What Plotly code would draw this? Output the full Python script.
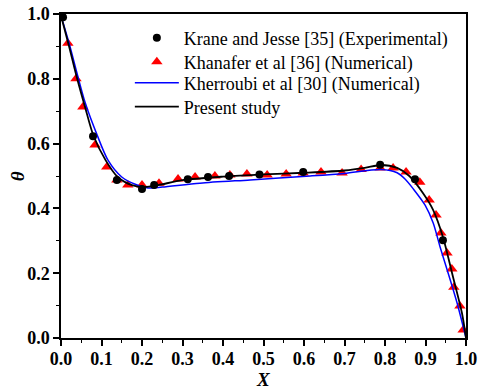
import plotly.graph_objects as go

# Krane and Jesse (Experimental)
krane_x = [0.005, 0.079, 0.138, 0.200, 0.230, 0.313, 0.363, 0.415, 0.490, 0.598, 0.788, 0.874, 0.943]
krane_y = [0.990, 0.623, 0.488, 0.460, 0.472, 0.490, 0.497, 0.500, 0.505, 0.512, 0.535, 0.490, 0.302]

# Khanafer et al (Numerical)
khan_x = [0.017, 0.037, 0.054, 0.084, 0.113, 0.138, 0.165, 0.200, 0.242, 0.289, 0.331, 0.380,
          0.417, 0.459, 0.509, 0.556, 0.598, 0.642, 0.694, 0.741, 0.788, 0.820, 0.852, 0.886,
          0.909, 0.926, 0.938, 0.953, 0.965, 0.970, 0.985, 0.993]
khan_y = [0.910, 0.800, 0.713, 0.596, 0.528, 0.488, 0.472, 0.472, 0.478, 0.491, 0.497, 0.500,
          0.503, 0.506, 0.503, 0.506, 0.509, 0.512, 0.509, 0.520, 0.525, 0.525, 0.512, 0.481,
          0.426, 0.380, 0.324, 0.262, 0.213, 0.157, 0.099, 0.025]

# Kherroubi et al (Numerical)
kher_x = [0.0, 0.02, 0.04, 0.06, 0.089, 0.116, 0.150, 0.188, 0.215, 0.250, 0.343, 0.467,
          0.615, 0.700, 0.790, 0.830, 0.850, 0.870, 0.899, 0.919, 0.936, 0.956, 0.978, 1.0]
kher_y = [0.995, 0.910, 0.815, 0.725, 0.627, 0.549, 0.497, 0.472, 0.463, 0.466, 0.478, 0.488,
          0.500, 0.508, 0.520, 0.510, 0.490, 0.460, 0.410, 0.355, 0.281, 0.200, 0.108, 0.0]

# Present study
pres_x = [0.0, 0.02, 0.04, 0.06, 0.08, 0.11, 0.14, 0.175, 0.207, 0.24, 0.30, 0.40, 0.50,
          0.60, 0.70, 0.75, 0.79, 0.83, 0.86, 0.894, 0.919, 0.943, 0.968, 0.99, 1.0]
pres_y = [0.995, 0.900, 0.800, 0.710, 0.625, 0.549, 0.497, 0.472, 0.466, 0.472, 0.487, 0.498, 0.505,
          0.510, 0.517, 0.525, 0.534, 0.525, 0.500, 0.447, 0.395, 0.312, 0.188, 0.077, 0.0]

x_title = "X"
y_title = "θ"

fig = go.Figure()
fig.add_trace(go.Scatter(x=khan_x, y=khan_y, mode="markers", name="Khanafer et al [36] (Numerical)",
                         marker=dict(symbol="triangle-up", size=10, color="#ff0000"), legend="legend2"))
fig.add_trace(go.Scatter(x=kher_x, y=kher_y, mode="lines", name="Kherroubi et al [30] (Numerical)",
                         line=dict(color="#0000ff", width=1.5, shape="spline", smoothing=0.8), legend="legend3"))
fig.add_trace(go.Scatter(x=pres_x, y=pres_y, mode="lines", name="Present study",
                         line=dict(color="#000000", width=1.8, shape="spline", smoothing=0.8), legend="legend4"))
fig.add_trace(go.Scatter(x=krane_x, y=krane_y, mode="markers", name="Krane and Jesse [35] (Experimental)",
                         marker=dict(symbol="circle", size=8, color="#000000"), legend="legend"))

serif = "Liberation Serif, Times New Roman, serif"
axis_common = dict(
    showgrid=False, zeroline=False, showline=True, linecolor="#000000", linewidth=1.5,
    mirror=True, ticks="outside", ticklen=6, tickwidth=1.5, tickcolor="#000000", automargin=False,
    tickfont=dict(family=serif, size=18, color="#000000", weight="bold"),
)
fig.update_xaxes(range=[0, 1.0], dtick=0.1, tickformat=".1f", ticklabelstandoff=-2,
                 minor=dict(dtick=0.05, ticks="outside", ticklen=3, tickwidth=1.2, tickcolor="#000000"),
                 **axis_common)
fig.update_yaxes(range=[0, 1.0], dtick=0.2, tickformat=".1f",
                 minor=dict(dtick=0.1, ticks="outside", ticklen=3, tickwidth=1.2, tickcolor="#000000"),
                 **axis_common)

title_font = dict(family=serif, size=19, color="#000000")
fig.add_annotation(text=f"<b><i>{x_title}</i></b>", xref="paper", yref="paper",
                   x=0.5, y=-0.1296, xanchor="center", yanchor="middle", showarrow=False,
                   font=title_font, borderpad=0)
fig.add_annotation(text=f"<b><i>{y_title}</i></b>", xref="paper", yref="paper",
                   x=-0.108, y=0.5, xanchor="center", yanchor="middle", showarrow=False,
                   textangle=-90, font=title_font, borderpad=0)

leg_font = dict(family=serif, size=18, color="#000000")
def leg(yv):
    return dict(x=0.17, y=yv, xanchor="left", yanchor="middle", bgcolor="rgba(0,0,0,0)",
                borderwidth=0, itemwidth=44, font=leg_font)

fig.update_layout(
    width=478, height=391,
    margin=dict(l=61, r=12, t=14, b=53),
    paper_bgcolor="white", plot_bgcolor="white",
    showlegend=True,
    legend=leg(0.926), legend2=leg(0.852), legend3=leg(0.787), legend4=leg(0.713),
)

fig.write_html("out.html")
